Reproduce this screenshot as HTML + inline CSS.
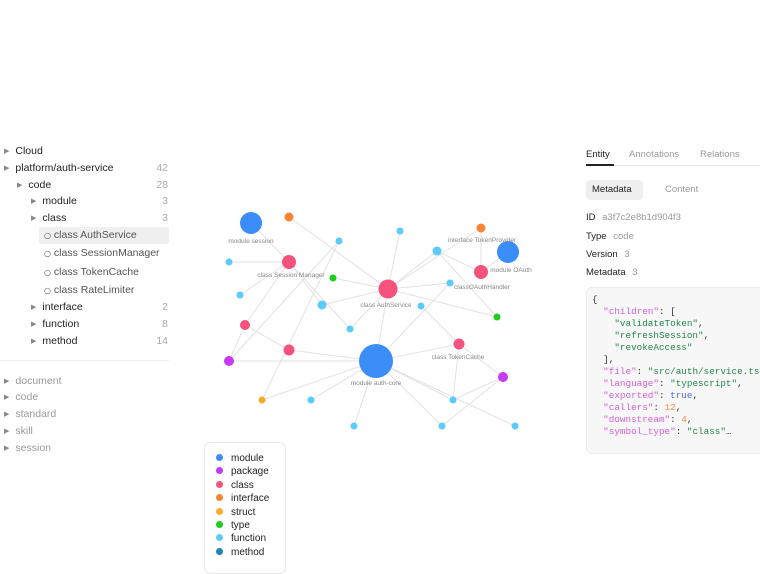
<!DOCTYPE html>
<html><head><meta charset="utf-8"><style>
body{margin:0;width:760px;height:566px;overflow:hidden;background:#fff;font-family:"Liberation Sans",sans-serif;position:relative}
.a{position:absolute;white-space:nowrap}
.t{font-size:10.5px;color:#222;line-height:14px;font-family:"Liberation Sans",sans-serif}
.g{color:#999}
.tri{font-size:7px;color:#888;margin-right:6px;vertical-align:1px}
.cnt{position:absolute;right:0;color:#aaa;font-size:10.5px}
.code{font-family:"Liberation Mono",monospace;font-size:9.3px;line-height:12px;color:#333;white-space:pre}
.k{color:#d35fd8}.s{color:#23864a}.n{color:#f08a3a}.b{color:#4a6cf0}
.lg{font-size:10px;color:#222;line-height:13.4px}
.dot{display:inline-block;width:7px;height:7px;border-radius:50%;margin-right:8px;vertical-align:0px}
</style></head><body>

<!-- left tree -->
<div class="a t" style="left:4px;top:144px"><span class="tri">▶</span>Cloud</div>
<div class="a t" style="left:4px;top:161px;width:164px"><span class="tri">▶</span>platform/auth-service<span class="cnt">42</span></div>
<div class="a t" style="left:17px;top:178px;width:151px"><span class="tri">▶</span>code<span class="cnt">28</span></div>
<div class="a t" style="left:31px;top:194px;width:137px"><span class="tri">▶</span>module<span class="cnt">3</span></div>
<div class="a t" style="left:31px;top:211px;width:137px"><span class="tri">▶</span>class<span class="cnt">3</span></div>
<div class="a" style="left:39px;top:227px;width:130px;height:17px;background:#efefef;border-radius:3px"></div>
<div class="a t" style="left:44px;top:228px;color:#555"><span style="font-family:'DejaVu Sans';font-size:8px">○</span> class AuthService</div>
<div class="a t" style="left:44px;top:246px;color:#555"><span style="font-family:'DejaVu Sans';font-size:8px">○</span> class SessionManager</div>
<div class="a t" style="left:44px;top:265px;color:#555"><span style="font-family:'DejaVu Sans';font-size:8px">○</span> class TokenCache</div>
<div class="a t" style="left:44px;top:283px;color:#555"><span style="font-family:'DejaVu Sans';font-size:8px">○</span> class RateLimiter</div>
<div class="a t" style="left:31px;top:300px;width:137px"><span class="tri">▶</span>interface<span class="cnt">2</span></div>
<div class="a t" style="left:31px;top:317px;width:137px"><span class="tri">▶</span>function<span class="cnt">8</span></div>
<div class="a t" style="left:31px;top:334px;width:137px"><span class="tri">▶</span>method<span class="cnt">14</span></div>
<div class="a" style="left:0;top:360px;width:169px;height:1px;background:#eee"></div>
<div class="a t g" style="left:4px;top:374px"><span class="tri">▶</span>document</div>
<div class="a t g" style="left:4px;top:390px"><span class="tri">▶</span>code</div>
<div class="a t g" style="left:4px;top:407px"><span class="tri">▶</span>standard</div>
<div class="a t g" style="left:4px;top:424px"><span class="tri">▶</span>skill</div>
<div class="a t g" style="left:4px;top:441px"><span class="tri">▶</span>session</div>

<!-- graph -->
<svg class="a" style="left:0;top:0" width="760" height="566">
<g stroke="#e2e2e2" stroke-width="1">
<line x1="251" y1="223" x2="289" y2="262"/>
<line x1="289" y1="217" x2="388" y2="289"/>
<line x1="229" y1="262" x2="289" y2="262"/>
<line x1="240" y1="295" x2="289" y2="262"/>
<line x1="289" y1="262" x2="350" y2="329"/>
<line x1="289" y1="262" x2="322" y2="305"/>
<line x1="333" y1="278" x2="388" y2="289"/>
<line x1="322" y1="305" x2="388" y2="289"/>
<line x1="350" y1="329" x2="388" y2="289"/>
<line x1="388" y1="289" x2="376" y2="361"/>
<line x1="388" y1="289" x2="400" y2="231"/>
<line x1="388" y1="289" x2="437" y2="251"/>
<line x1="388" y1="289" x2="481" y2="228"/>
<line x1="388" y1="289" x2="450" y2="283"/>
<line x1="388" y1="289" x2="497" y2="317"/>
<line x1="437" y1="251" x2="481" y2="272"/>
<line x1="437" y1="251" x2="497" y2="317"/>
<line x1="481" y1="228" x2="481" y2="272"/>
<line x1="508" y1="252" x2="481" y2="272"/>
<line x1="421" y1="306" x2="459" y2="344"/>
<line x1="450" y1="283" x2="376" y2="361"/>
<line x1="339" y1="241" x2="229" y2="361"/>
<line x1="339" y1="241" x2="262" y2="400"/>
<line x1="245" y1="325" x2="229" y2="361"/>
<line x1="245" y1="325" x2="289" y2="350"/>
<line x1="289" y1="262" x2="245" y2="325"/>
<line x1="289" y1="350" x2="376" y2="361"/>
<line x1="229" y1="361" x2="376" y2="361"/>
<line x1="262" y1="400" x2="376" y2="361"/>
<line x1="311" y1="400" x2="376" y2="361"/>
<line x1="354" y1="426" x2="376" y2="361"/>
<line x1="376" y1="361" x2="459" y2="344"/>
<line x1="376" y1="361" x2="453" y2="400"/>
<line x1="376" y1="361" x2="442" y2="426"/>
<line x1="376" y1="361" x2="515" y2="426"/>
<line x1="459" y1="344" x2="503" y2="377"/>
<line x1="459" y1="344" x2="453" y2="400"/>
<line x1="503" y1="377" x2="453" y2="400"/>
<line x1="503" y1="377" x2="442" y2="426"/>
</g>
<g>
<circle cx="251" cy="223" r="11" fill="#3b8ef7"/>
<circle cx="508" cy="252" r="11" fill="#3b8ef7"/>
<circle cx="376" cy="361" r="17" fill="#3b8ef7"/>
<circle cx="388" cy="289" r="9.5" fill="#f5527d"/>
<circle cx="289" cy="262" r="7" fill="#f5527d"/>
<circle cx="481" cy="272" r="7" fill="#f5527d"/>
<circle cx="459" cy="344" r="5.5" fill="#f5527d"/>
<circle cx="245" cy="325" r="5" fill="#f5527d"/>
<circle cx="289" cy="350" r="5.5" fill="#f5527d"/>
<circle cx="289" cy="217" r="4.5" fill="#f98532"/>
<circle cx="481" cy="228" r="4.5" fill="#f98532"/>
<circle cx="262" cy="400" r="3.5" fill="#fbaa2e"/>
<circle cx="229" cy="361" r="5" fill="#c43af5"/>
<circle cx="503" cy="377" r="5" fill="#c43af5"/>
<circle cx="333" cy="278" r="3.5" fill="#1ccd1c"/>
<circle cx="497" cy="317" r="3.5" fill="#1ccd1c"/>
<g fill="#5ccbfa">
<circle cx="339" cy="241" r="3.5"/><circle cx="400" cy="231" r="3.5"/><circle cx="437" cy="251" r="4.5"/>
<circle cx="229" cy="262" r="3.5"/><circle cx="240" cy="295" r="3.5"/><circle cx="450" cy="283" r="3.5"/>
<circle cx="322" cy="305" r="4.5"/><circle cx="421" cy="306" r="3.5"/><circle cx="350" cy="329" r="3.5"/>
<circle cx="311" cy="400" r="3.5"/><circle cx="453" cy="400" r="3.5"/><circle cx="354" cy="426" r="3.5"/>
<circle cx="442" cy="426" r="3.5"/><circle cx="515" cy="426" r="3.5"/>
</g>
</g>
<g font-family="Liberation Sans,sans-serif" font-size="6.5" fill="#888" text-anchor="middle">
<text x="251" y="243">module session</text>
<text x="291" y="277">class Session Manager</text>
<text x="386" y="307">class AuthService</text>
<text x="482" y="242">interface TokenProvider</text>
<text x="511" y="272">module OAuth</text>
<text x="482" y="289">classOAuthHandler</text>
<text x="458" y="359">class TokenCache</text>
<text x="376" y="385">module auth-core</text>
</g>
</svg>

<!-- legend -->
<div class="a" style="left:204px;top:442px;width:80px;height:130px;border:1px solid #e8e8e8;border-radius:6px;background:#fff"></div>
<div class="a lg" style="left:216px;top:452px">
<div><span class="dot" style="background:#3b8ef7"></span>module</div>
<div><span class="dot" style="background:#c43af5"></span>package</div>
<div><span class="dot" style="background:#f5527d"></span>class</div>
<div><span class="dot" style="background:#f98532"></span>interface</div>
<div><span class="dot" style="background:#fbaa2e"></span>struct</div>
<div><span class="dot" style="background:#1ccd1c"></span>type</div>
<div><span class="dot" style="background:#5ccbfa"></span>function</div>
<div><span class="dot" style="background:#1a86b8"></span>method</div>
</div>

<!-- right panel -->
<div class="a" style="left:586px;top:165px;width:174px;height:1px;background:#e6e6e6"></div>
<div class="a" style="left:586px;top:164px;width:28px;height:2px;background:#222"></div>
<div class="a t" style="left:586px;top:148px;font-size:9.5px">Entity</div>
<div class="a t g" style="left:629px;top:148px;font-size:9.5px">Annotations</div>
<div class="a t g" style="left:700px;top:148px;font-size:9.5px">Relations</div>
<div class="a" style="left:586px;top:180px;width:57px;height:20px;background:#efefef;border-radius:4px"></div>
<div class="a t" style="left:592px;top:183px;font-size:9.5px">Metadata</div>
<div class="a t g" style="left:665px;top:183px;font-size:9.5px">Content</div>
<div class="a t" style="left:586px;top:211px;font-size:9.5px">ID <span class="g" style="margin-left:4px">a3f7c2e8b1d904f3</span></div>
<div class="a t" style="left:586px;top:230px;font-size:9.5px">Type <span class="g" style="margin-left:4px">code</span></div>
<div class="a t" style="left:586px;top:248px;font-size:9.5px">Version <span class="g" style="margin-left:4px">3</span></div>
<div class="a t" style="left:586px;top:266px;font-size:9.5px">Metadata <span class="g" style="margin-left:4px">3</span></div>
<div class="a" style="left:586px;top:287px;width:180px;height:165px;background:#f7f7f7;border:1px solid #ececec;border-radius:6px;overflow:hidden"></div>
<pre class="a code" style="left:592px;top:294px;margin:0;width:168px;overflow:hidden">{
  <span class="k">"children"</span>: [
    <span class="s">"validateToken"</span>,
    <span class="s">"refreshSession"</span>,
    <span class="s">"revokeAccess"</span>
  ],
  <span class="k">"file"</span>: <span class="s">"src/auth/service.ts"</span>
  <span class="k">"language"</span>: <span class="s">"typescript"</span>,
  <span class="k">"exported"</span>: <span class="b">true</span>,
  <span class="k">"callers"</span>: <span class="n">12</span>,
  <span class="k">"downstream"</span>: <span class="n">4</span>,
  <span class="k">"symbol_type"</span>: <span class="s">"class"</span>…</pre>
</body></html>
